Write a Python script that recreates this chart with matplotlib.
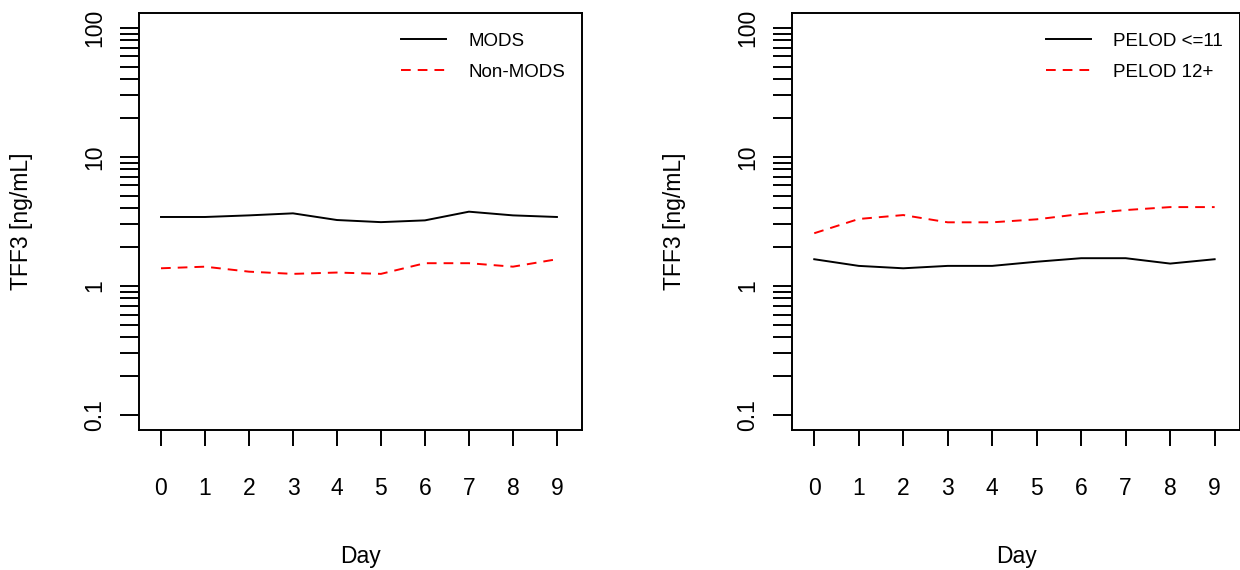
import numpy as np
import matplotlib as mpl
mpl.use('agg')
import matplotlib.pyplot as plt
from matplotlib.ticker import FixedLocator, NullFormatter

plt.rcParams['font.family'] = ['Liberation Sans', 'DejaVu Sans']
plt.rcParams['font.size'] = 16.5

# Values.

days = [0, 1, 2, 3, 4, 5, 6, 7, 8, 9]

mods = [3.42, 3.42, 3.52, 3.65, 3.24, 3.12, 3.22, 3.76, 3.52, 3.42]
non_mods = [1.37, 1.41, 1.29, 1.24, 1.27, 1.24, 1.50, 1.50, 1.41, 1.61]

pelod_low = [1.61, 1.43, 1.37, 1.43, 1.43, 1.54, 1.64, 1.64, 1.49, 1.61]
pelod_high = [2.56, 3.30, 3.54, 3.11, 3.11, 3.28, 3.61, 3.87, 4.08, 4.08]

panels = [
    (mods, non_mods, 'MODS', 'Non-MODS'),
    (pelod_low, pelod_high, 'PELOD <=11', 'PELOD 12+'),
]

yticks = [0.1, 1, 10, 100]
ylabels = ['0.1', '1', '10', '100']

fig = plt.figure(figsize=(12.4, 5.7), dpi=100)

# Axes boxes in figure pixels: (left, right), top 13, bottom 430.
boxes = [(139, 582), (792, 1240)]
W, H = 1240, 570

for (x0, x1), (solid, dashed, lab1, lab2) in zip(boxes, panels):
    ax = fig.add_axes([x0 / W, (H - 430) / H, (x1 - x0) / W, 417 / H])
    ax.plot(days, solid, color='black', lw=1.4, label=lab1)
    ax.plot(days, dashed, color='red', lw=1.4, dashes=(5, 3.6), label=lab2)

    ax.set_yscale('log')
    ax.set_ylim(0.0766, 130)
    ax.set_xlim(-0.5, 9.57)

    minor = [m * 10.0**e for e in range(-1, 2) for m in range(2, 10)]
    ax.yaxis.set_major_locator(FixedLocator(yticks))
    ax.yaxis.set_minor_locator(FixedLocator(minor))
    ax.yaxis.set_minor_formatter(NullFormatter())
    ax.set_yticklabels(ylabels)
    ax.set_xticks(days)

    for sp in ax.spines.values():
        sp.set_linewidth(1.4)
    ax.tick_params(axis='y', which='both', direction='out', length=13.7,
                   width=1.4, pad=10)
    ax.tick_params(axis='x', direction='out', length=11.5, width=1.4, pad=22)
    for t in ax.get_yticklabels():
        t.set_rotation(90)
        t.set_va('center')

    ax.set_xlabel('Day', va='center')
    ax.xaxis.set_label_coords(0.5, -126 / 417)
    ax.set_ylabel('TFF3 [ng/mL]', va='center')
    ax.yaxis.set_label_coords(-118 / (x1 - x0), 0.5)

    ax.legend(loc='upper right', bbox_to_anchor=(1, 1 - 3 / 417),
              frameon=False, fontsize=13.5,
              handlelength=2.4, handletextpad=1.2, labelspacing=0.72,
              borderaxespad=0.5, borderpad=0.4)

fig.savefig('out.png', dpi=100)
